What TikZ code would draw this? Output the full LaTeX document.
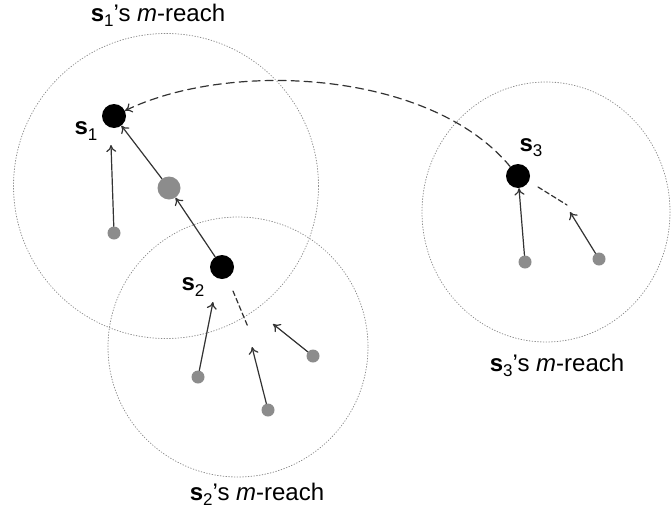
\documentclass[tikz,border=0pt]{standalone}
\usepackage{fontspec}
\setmainfont{Liberation Sans}
\usetikzlibrary{arrows.meta}
\newcommand{\sname}[1]{\textbf{s}\raisebox{-.4ex}{\fontsize{17}{17}\selectfont #1}}
\begin{document}
\begin{tikzpicture}[x=1pt, y=-1pt, line cap=round, line join=round,
    every node/.style={font=\fontsize{24}{28}\selectfont}]
  \tikzset{reach/.style={draw=black!45, line width=.8pt, dotted},
    bigdot/.style={circle, fill=black, inner sep=0pt, minimum size=24pt},
    middot/.style={circle, fill=black!45, inner sep=0pt, minimum size=23pt},
    smalldot/.style={circle, fill=black!45, inner sep=0pt, minimum size=13pt},
    link/.style={draw=black!80, line width=1.2pt, -{To[length=7pt,width=10pt]}},
    hop/.style={draw=black!80, line width=1.2pt, dash pattern=on 8pt off 5pt, -{To[length=7pt,width=10pt]}},
    stub/.style={draw=black!80, line width=1.2pt, dash pattern=on 5pt off 3pt}}
  \useasboundingbox (0,0) rectangle (671,514);

  % the three m-reach regions
  \draw[reach] (166,186) circle (152.5);
  \draw[reach] (238,347) circle (130);
  \draw[reach] (546,212) ellipse (124 and 130);

  \node at (158,15) {\sname{1}'s \textit{m}-reach};
  \node at (257,494) {\sname{2}'s \textit{m}-reach};
  \node at (557,365) {\sname{3}'s \textit{m}-reach};

  % points
  \node[bigdot] (s1) at (114,116) {};
  \node[middot] (g) at (169,188) {};
  \node[bigdot] (s2) at (222,267) {};
  \node[bigdot] (s3) at (518,176) {};
  \node at (86,131) {\sname{1}};
  \node at (193,287) {\sname{2}};
  \node at (531,148) {\sname{3}};

  \foreach \n/\x/\y in {d1/114/233, d2/198/377, d3/268/410, d4/313/356, d5/525/262, d6/599/259} {
    \node[smalldot] (\n) at (\x,\y) {};
  }
  \coordinate (t1) at (111,145);
  \coordinate (t2) at (213,302);
  \coordinate (t3) at (252,347);
  \coordinate (t4) at (273,324);
  \coordinate (t6) at (570,212);
  \coordinate (a2) at (233,291);
  \coordinate (b2) at (248,327);
  \coordinate (a3) at (538,187);
  \coordinate (b3) at (567,205);

  % links
  \draw[link] (d1) -- (t1);
  \draw[link] (g) -- (s1);
  \draw[link] (s2) -- (g);
  \draw[link] (d2) -- (t2);
  \draw[link] (d3) -- (t3);
  \draw[link] (d4) -- (t4);
  \draw[link] (d5) -- (s3);
  \draw[link] (d6) -- (t6);
  \draw[stub] (a2) -- (b2);
  \draw[stub] (a3) -- (b3);

  % long hop from s3 back to s1
  \draw[hop] (s3) .. controls (430,70) and (230,60) .. (s1);
\end{tikzpicture}
\end{document}
